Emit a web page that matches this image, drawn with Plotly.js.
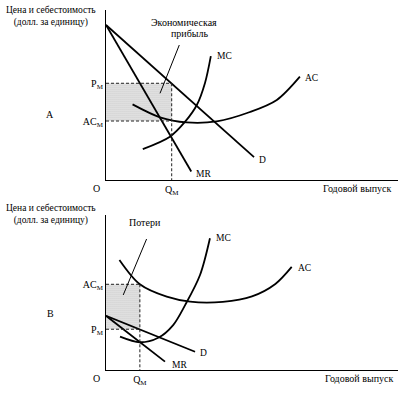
<!DOCTYPE html>
<html><head><meta charset="utf-8">
<script src="https://cdn.plot.ly/plotly-3.0.1.min.js"></script>
<style>html,body{margin:0;padding:0;background:#fff}#chart{width:401px;height:394px}</style>
</head><body><div id="chart"></div>
<script>
// ---------- Panel A: monopoly with economic profit ----------
const A_D_q = [0, 50.7];
const A_D_p = [91.2, 13.5];
const A_MR_q = [0, 29.2];
const A_MR_p = [91.2, 5.0];
const A_MC_q = [12.6, 21.9, 27.1, 31.1, 33.9, 35.9];
const A_MC_p = [18.2, 25.5, 34.3, 44.1, 57.1, 72.9];
const A_AC_q = [9.1, 18.5, 27.6, 37.9, 49.3, 58.5, 66.4];
const A_AC_p = [44.5, 36.9, 33.9, 34.5, 40.0, 47.1, 60.8];
const A_QM = 22.5, A_PM = 56.9, A_ACM = 34.7;

// ---------- Panel B: monopoly with losses ----------
const B_D_q = [0, 30.5];
const B_D_p = [35.0, 11.8];
const B_MR_q = [0, 20.2];
const B_MR_p = [35.0, 5.4];
const B_MC_q = [4.8, 11.6, 17.9, 23.0, 27.1, 32.2, 35.6];
const B_MC_p = [21.5, 17.9, 20.8, 29.0, 41.9, 61.3, 85.0];
const B_AC_q = [4.6, 11.6, 20.8, 28.8, 40.0, 50.0, 58.0, 63.6];
const B_AC_p = [71.0, 55.3, 47.3, 44.1, 44.0, 47.5, 55.5, 66.5];
const B_QM = 11.6, B_PM = 26.3, B_ACM = 55.3;

// ---------- Text ----------
const curveNames = {D: 'D', MR: 'MR', MC: 'MC', AC: 'AC'};
const yTitle = 'Цена и себестоимость<br>(долл. за единицу)';
const xTitle = 'Годовой выпуск';
const yTickText = ['AC<sub>M</sub>', 'P<sub>M</sub>'];
const xTickText = ['Q<sub>M</sub>'];
const panelNames = ['A', 'B'];
const profitText = ['Экономическая', 'прибыль'];
const lossText = 'Потери';
const originText = 'O';

const FONT = 'Liberation Serif, Times New Roman, serif';
const W = 401, H = 394;
const px = x => x / W, py = y => 1 - y / H;

function curve(q, p, xa, ya, spline) {
  return {x: q, y: p, xaxis: xa, yaxis: ya, mode: 'lines', type: 'scatter',
    line: {color: '#000', width: 1.8, shape: spline ? 'spline' : 'linear', smoothing: 0.9},
    hoverinfo: 'skip', showlegend: false, cliponaxis: false};
}
function shade(qm, pLow, pHigh, xa, ya) {
  return {x: [0, qm, qm, 0, 0], y: [pLow, pLow, pHigh, pHigh, pLow], xaxis: xa, yaxis: ya,
    type: 'scatter', mode: 'lines', fill: 'toself', line: {width: 0},
    fillcolor: '#e4e4e4',
    fillpattern: {shape: '.', bgcolor: '#eeeeee', fgcolor: '#a0a0a0', size: 2, solidity: 0.3},
    hoverinfo: 'skip', showlegend: false};
}

const traces = [
  shade(A_QM, A_ACM, A_PM, 'x', 'y'),
  curve(A_D_q, A_D_p, 'x', 'y', false),
  curve(A_MR_q, A_MR_p, 'x', 'y', false),
  curve(A_MC_q, A_MC_p, 'x', 'y', true),
  curve(A_AC_q, A_AC_p, 'x', 'y', true),
  shade(B_QM, B_PM, B_ACM, 'x2', 'y2'),
  curve(B_D_q, B_D_p, 'x2', 'y2', false),
  curve(B_MR_q, B_MR_p, 'x2', 'y2', false),
  curve(B_MC_q, B_MC_p, 'x2', 'y2', true),
  curve(B_AC_q, B_AC_p, 'x2', 'y2', true)
];

const dashLine = {color: '#222', width: 1, dash: '3px,2px'};
function dline(xr, yr, x0, y0, x1, y1) {
  return {type: 'line', xref: xr, yref: yr, x0, y0, x1, y1, line: dashLine, layer: 'above'};
}
function pline(xr, yr, x0, y0, x1, y1) {
  return {type: 'line', xref: xr, yref: yr, x0, y0, x1, y1, line: {color: '#000', width: 1}};
}
const shapes = [
  dline('x', 'y', 0, A_PM, A_QM, A_PM),
  dline('x', 'y', A_QM, A_PM, A_QM, 0),
  dline('x', 'y', 0, A_ACM, A_QM, A_ACM),
  pline('x', 'y', 25.1, 79.4, 18.5, 51.0),
  dline('x2', 'y2', 0, B_ACM, B_QM, B_ACM),
  dline('x2', 'y2', B_QM, B_ACM, B_QM, 0),
  dline('x2', 'y2', 0, B_PM, B_QM, B_PM),
  pline('x2', 'y2', 13.9, 84.5, 5.9, 48.4)
];

function paperText(text, x, y, size, anchor) {
  return {text, xref: 'paper', yref: 'paper', x: px(x), y: py(y), showarrow: false,
    xanchor: anchor || 'center', yanchor: 'middle', font: {family: FONT, size: size || 10, color: '#000'}};
}
function curveLabel(text, q, p, xa, ya, dx, dy) {
  return {text, xref: xa, yref: ya, x: q[q.length - 1], y: p[p.length - 1], showarrow: false,
    xanchor: 'left', yanchor: 'middle', xshift: dx, yshift: dy,
    font: {family: FONT, size: 9.5, color: '#000'}};
}

const annotations = [
  paperText(yTitle, 51, 16, 9.5), paperText(yTitle, 51, 214.5, 9.5),
  paperText(xTitle, 357, 188.5, 10), paperText(xTitle, 359, 378, 10),
  paperText(panelNames[0], 50, 115, 10), paperText(panelNames[1], 50, 313, 10),
  paperText(originText, 96, 189, 10), paperText(originText, 96, 378, 10),
  paperText(profitText[0], 184, 22, 10), paperText(profitText[1], 189.5, 33.5, 10),
  paperText(lossText, 145, 222, 10),
  curveLabel(curveNames.D, A_D_q, A_D_p, 'x', 'y', 3, -3),
  curveLabel(curveNames.MR, A_MR_q, A_MR_p, 'x', 'y', 3, -2),
  curveLabel(curveNames.MC, A_MC_q, A_MC_p, 'x', 'y', 4, 0),
  curveLabel(curveNames.AC, A_AC_q, A_AC_p, 'x', 'y', 3, -1),
  curveLabel(curveNames.D, B_D_q, B_D_p, 'x2', 'y2', 3, -1),
  curveLabel(curveNames.MR, B_MR_q, B_MR_p, 'x2', 'y2', 5, -3),
  curveLabel(curveNames.MC, B_MC_q, B_MC_p, 'x2', 'y2', 4, 0),
  curveLabel(curveNames.AC, B_AC_q, B_AC_p, 'x2', 'y2', 4, -1)
];

function xax(tick) {
  return {domain: [px(106), px(398)], range: [0, 100], showline: true, linecolor: '#000', linewidth: 1.3,
    showgrid: false, zeroline: false, ticks: '', tickmode: 'array', tickvals: [tick], ticktext: xTickText,
    tickfont: {family: FONT, size: 10, color: '#000'}, fixedrange: true};
}
function yax(top, bottom, acm, pm) {
  return {domain: [py(bottom), py(top)], range: [0, 100], showline: true, linecolor: '#000', linewidth: 1.1,
    showgrid: false, zeroline: false, ticks: '', tickmode: 'array', tickvals: [acm, pm], ticktext: yTickText,
    tickfont: {family: FONT, size: 10, color: '#000'}, fixedrange: true};
}

const layout = {
  width: W, height: H, margin: {l: 0, r: 0, t: 0, b: 0},
  paper_bgcolor: '#fff', plot_bgcolor: 'rgba(0,0,0,0)', showlegend: false,
  xaxis: Object.assign(xax(A_QM), {anchor: 'y'}),
  yaxis: Object.assign(yax(10, 180, A_ACM, A_PM), {anchor: 'x'}),
  xaxis2: Object.assign(xax(B_QM), {anchor: 'y2'}),
  yaxis2: Object.assign(yax(215, 370, B_ACM, B_PM), {anchor: 'x2'}),
  shapes, annotations
};

Plotly.newPlot('chart', traces, layout, {staticPlot: true, displayModeBar: false});
</script></body></html>
